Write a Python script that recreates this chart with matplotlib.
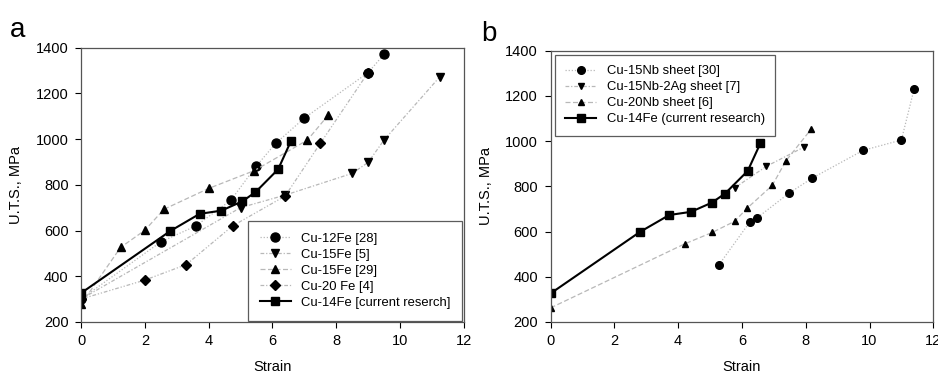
import matplotlib
matplotlib.use('agg')
import matplotlib.pyplot as plt

plt.rcParams['font.family'] = ['Liberation Sans', 'DejaVu Sans']

# panel a
cu12fe_x = [0, 2.5, 3.6, 4.7, 5.5, 6.1, 7.0, 9.0, 9.5]
cu12fe_y = [300, 550, 620, 733, 883, 981, 1092, 1291, 1371]
cu15fe5_x = [0, 5.0, 6.4, 8.5, 9.0, 9.5, 11.25]
cu15fe5_y = [300, 700, 755, 850, 898, 996, 1273]
cu15fe29_x = [0, 1.24, 2.0, 2.6, 4.0, 5.43, 7.1, 7.75]
cu15fe29_y = [277, 526, 601, 693, 784, 862, 996, 1105]
cu20fe_x = [0, 2.0, 3.3, 4.75, 6.4, 7.5, 9.0]
cu20fe_y = [300, 383, 451, 620, 751, 981, 1291]

# current research (both panels)
cu14fe_x = [0, 2.8, 3.72, 4.4, 5.06, 5.47, 6.18, 6.58]
cu14fe_y = [326, 598, 673, 687, 728, 768, 868, 991]

# panel b
nb15_x = [5.27, 6.24, 6.48, 7.48, 8.21, 9.8, 11.0, 11.4]
nb15_y = [451, 641, 661, 770, 837, 959, 1005, 1232]
nb15ag_x = [5.77, 6.76, 7.95]
nb15ag_y = [793, 888, 974]
nb20_x = [0, 4.2, 5.07, 5.77, 6.17, 6.95, 7.38, 8.17]
nb20_y = [262, 545, 596, 645, 704, 804, 913, 1053]

fig = plt.figure(figsize=(9.38, 3.73), dpi=100)
axa = fig.add_axes([0.0864, 0.137, 0.408, 0.735])
axb = fig.add_axes([0.587, 0.137, 0.408, 0.727])

gray = '#b8b8b8'
kw = dict(color=gray, lw=0.9, mec='k', mfc='k')

axa.plot(cu12fe_x, cu12fe_y, ls=(0, (1, 1.5)), marker='o', ms=6.5, label='Cu-12Fe [28]', **kw)
axa.plot(cu15fe5_x, cu15fe5_y, ls=(0, (3, 1.5, 1, 1.5)), marker='v', ms=6, label='Cu-15Fe [5]', **kw)
axa.plot(cu15fe29_x, cu15fe29_y, ls=(0, (4, 2)), marker='^', ms=6, label='Cu-15Fe [29]', **kw)
axa.plot(cu20fe_x, cu20fe_y, ls=(0, (3, 1.5, 1, 1.5, 1, 1.5)), marker='D', ms=5.5, label='Cu-20 Fe [4]', **kw)
axa.plot(cu14fe_x, cu14fe_y, '-ks', lw=1.5, ms=6, label='Cu-14Fe [current reserch]')

axb.plot(nb15_x, nb15_y, ls=(0, (1, 1.5)), marker='o', ms=5.5, label='Cu-15Nb sheet [30]', **kw)
axb.plot(nb15ag_x, nb15ag_y, ls=(0, (3, 1.5, 1, 1.5)), marker='v', ms=5, label='Cu-15Nb-2Ag sheet [7]', **kw)
axb.plot(nb20_x, nb20_y, ls=(0, (4, 2)), marker='^', ms=5, label='Cu-20Nb sheet [6]', **kw)
axb.plot(cu14fe_x, cu14fe_y, '-ks', lw=1.5, ms=6, label='Cu-14Fe (current research)')

for ax in (axa, axb):
    ax.set_xlim(0, 12)
    ax.set_ylim(200, 1400)
    ax.set_xticks(range(0, 13, 2))
    ax.set_yticks(range(200, 1401, 200))
    ax.tick_params(labelsize=10.5, direction='out', length=4, width=0.8, pad=5, top=False, right=False)
    for s in ax.spines.values():
        s.set_color('#555555')
        s.set_linewidth(0.9)
    ax.set_xlabel('Strain', fontsize=10.5, labelpad=8)
    ax.set_ylabel('U.T.S., MPa', fontsize=10.5, labelpad=9)

leg = axa.legend(loc='lower right', fontsize=9.4, frameon=True, fancybox=False,
                 edgecolor='#333333', borderpad=0.9, labelspacing=0.3,
                 handlelength=2.4, borderaxespad=0.1)
leg.get_frame().set_linewidth(0.9)
leg = axb.legend(loc='upper left', fontsize=9.4, frameon=True, fancybox=False,
                 edgecolor='#333333', borderpad=0.8, labelspacing=0.3,
                 handlelength=2.4, borderaxespad=0.3)
leg.get_frame().set_linewidth(0.9)

fig.text(0.011, 0.90, 'a', fontsize=20)
fig.text(0.513, 0.89, 'b', fontsize=20)

fig.savefig('out.png', dpi=100)
